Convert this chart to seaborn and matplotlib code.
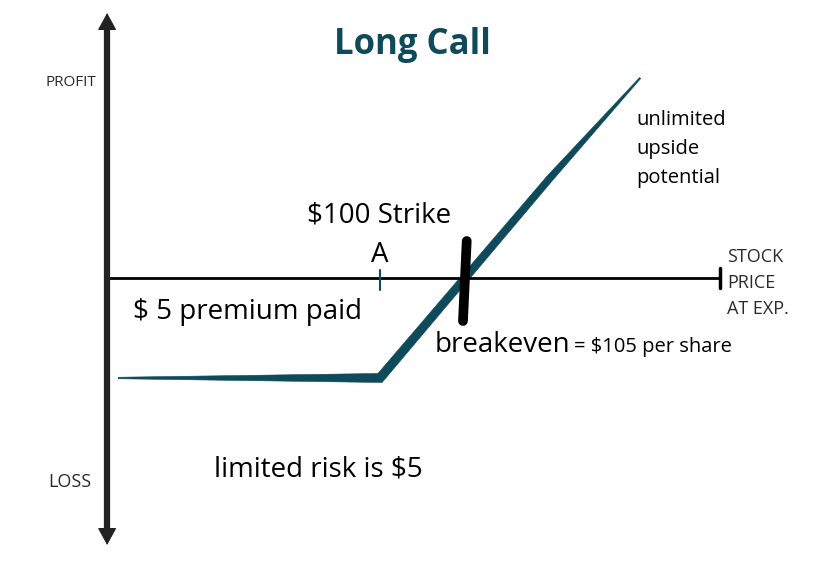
import numpy as np
import matplotlib
matplotlib.use("Agg")
import matplotlib.pyplot as plt
from matplotlib.patches import Polygon
import seaborn as sns

# --- chart data (stock price at expiry vs profit per share) ---
strike = 100
premium = 5
breakeven = 105
payoff_price = [84.6, 100, 110, 115.3]
payoff_profit = [-5, -5, 5, 10.0]
payoff_width_px = [1.5, 9.0, 7.0, 1.5]     # taper of the drawn payoff band

x_axis_range = [83.95, 120.0]
y_axis_range = [-13.35, 13.25]

teal = "#0e4a5a"
grey = "#2b2b2b"

sns.set_theme(style="white")
plt.rcParams["font.family"] = ["Open Sans", "DejaVu Sans"]

fig = plt.figure(figsize=(8.35, 5.73), dpi=100)
ax = fig.add_axes([0, 0, 1, 1])
ax.set_xlim(77.65, 126.76)
ax.set_ylim(-14.75, 13.9)
ax.axis("off")

# horizontal axis + end tick
sns.lineplot(x=x_axis_range, y=[0, 0], color="black", lw=2, ax=ax)
ax.plot([x_axis_range[1]] * 2, [-0.5, 0.5], color="black", lw=2.5)

# vertical axis with arrows on both ends
x0 = x_axis_range[0]
ax.plot([x0, x0], [y_axis_range[0] + 0.5, y_axis_range[1] - 0.5], color="#222222", lw=4.5,
        solid_capstyle="butt")
for tip in y_axis_range:
    ax.annotate("", xy=(x0, tip), xytext=(x0, 0),
                arrowprops=dict(arrowstyle="-|>,head_length=0.55,head_width=0.3",
                                color="#222222", lw=0.8, mutation_scale=20,
                                shrinkA=0, shrinkB=0))

# tapered payoff band, built in pixel space then mapped back to data
pts = ax.transData.transform(np.column_stack([payoff_price, payoff_profit]))
half = np.array(payoff_width_px) / 2
dirs = np.diff(pts, axis=0)
dirs = dirs / np.linalg.norm(dirs, axis=1, keepdims=True)
norms = np.column_stack([-dirs[:, 1], dirs[:, 0]])
offsets = [norms[0]]
for i in range(1, len(pts) - 1):
    a, b = norms[i - 1], norms[i]
    offsets.append((a + b) / (1 + a @ b))
offsets.append(norms[-1])
offsets = np.array(offsets) * half[:, None]
outline = np.vstack([pts + offsets, (pts - offsets)[::-1]])
poly = ax.transData.inverted().transform(outline)
ax.add_patch(Polygon(poly, closed=True, facecolor=teal, edgecolor=teal, lw=0.4))

# strike tick and breakeven marker
ax.plot([strike, strike], [-0.6, 0.4], color=teal, lw=1.5)
ax.plot([breakeven + 0.1, breakeven - 0.12], [1.85, -2.15], color="black", lw=7,
        solid_capstyle="round")

# labels
ax.text(101.88, 11.65, "Long Call", color=teal, fontsize=25, fontweight="bold",
        ha="center", va="center")
ax.text(80.35, 9.8, "PROFIT", color=grey, fontsize=11, ha="left", va="center")
ax.text(80.47, -10.2, "LOSS", color=grey, fontsize=13, ha="left", va="center")
ax.text(120.41, -0.25, "STOCK\nPRICE\nAT EXP.", color=grey, fontsize=13, ha="left",
        va="center", linespacing=1.57)
ax.text(115.1, 6.45, "unlimited\nupside\npotential", color="black", fontsize=14.5,
        ha="left", va="center", linespacing=1.58)
ax.text(99.94, 3.15, "$100 Strike", color="black", fontsize=20, ha="center", va="center")
ax.text(strike, 1.15, "A", color="black", fontsize=20, ha="center", va="center")
ax.text(85.47, -1.7, "$ 5 premium paid", color="black", fontsize=20, ha="left", va="center")
ax.text(103.24, -3.35, "breakeven", color="black", fontsize=20, ha="left", va="center")
ax.text(111.4, -3.45, "= $105 per share", color="black", fontsize=14.5, ha="left", va="center")
ax.text(90.24, -9.55, "limited risk is $5", color="black", fontsize=20, ha="left", va="center")

fig.savefig("out.png", dpi=100)
